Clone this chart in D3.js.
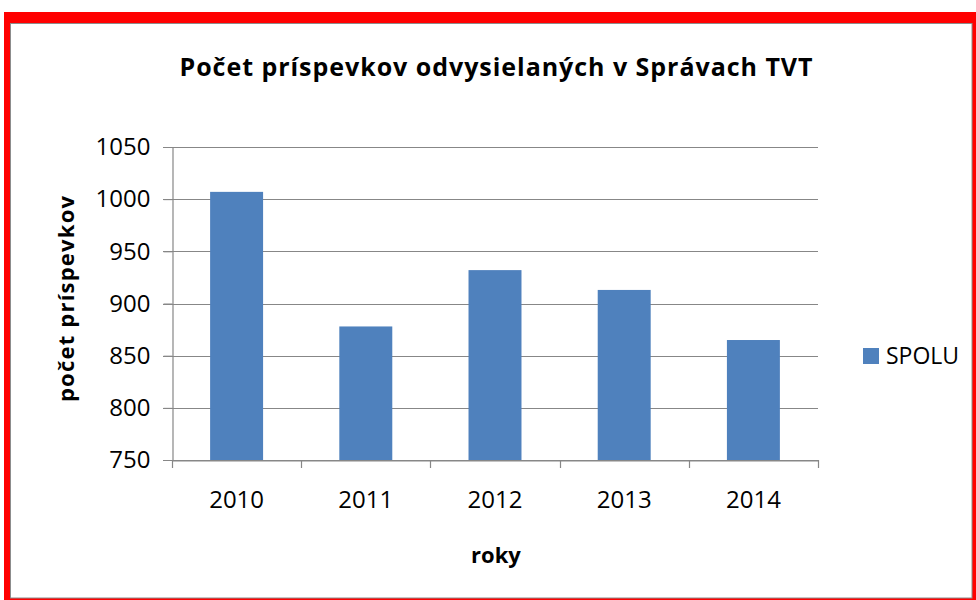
<!DOCTYPE html>
<html>
<head>
<meta charset="utf-8">
<script src="https://cdn.jsdelivr.net/npm/d3@7"></script>
<style>
  body { margin: 0; background: #fff; }
  svg { display: block; font-family: "Open Sans", "Liberation Sans", Arial, sans-serif; }
</style>
</head>
<body>
<div id="chart"></div>
<script>
const years = ['2010', '2011', '2012', '2013', '2014'];
const spolu = [1007, 878, 932, 913, 865];
const yTicks = [750, 800, 850, 900, 950, 1000, 1050];

const width = 976, height = 600;
const margin = { top: 147, right: 158, bottom: 140, left: 172 };
const font = '"Open Sans", "Liberation Sans", Arial, sans-serif';

const svg = d3.select('#chart').append('svg')
  .attr('width', width)
  .attr('height', height);

// red frame + grey inner border
svg.append('rect').attr('x', 4).attr('y', 12).attr('width', 972).attr('height', 588).attr('fill', '#ff0000');
svg.append('rect').attr('x', 10.5).attr('y', 23.5).attr('width', 961.5).attr('height', 574.5)
  .attr('fill', '#fff').attr('stroke', '#8c8c8c').attr('stroke-width', 1);

const x = d3.scaleBand()
  .domain(years)
  .range([margin.left, width - margin.right])
  .paddingInner(0.59)
  .paddingOuter(0.295);

const y = d3.scaleLinear()
  .domain([750, 1050])
  .range([height - margin.bottom, margin.top]);

// gridlines
svg.append('g')
  .selectAll('line')
  .data(yTicks)
  .join('line')
  .attr('x1', margin.left - 9)
  .attr('x2', width - margin.right)
  .attr('y1', d => Math.round(y(d)) + 0.5)
  .attr('y2', d => Math.round(y(d)) + 0.5)
  .attr('stroke', '#878787')
  .attr('stroke-width', 1.2);

// bars
svg.append('g')
  .selectAll('rect')
  .data(spolu)
  .join('rect')
  .attr('x', (d, i) => x(years[i]))
  .attr('y', d => y(d))
  .attr('width', x.bandwidth())
  .attr('height', d => y(750) - y(d))
  .attr('fill', '#4f81bd');

// y axis
const yAxis = svg.append('g')
  .attr('transform', `translate(${margin.left + 0.5},0)`)
  .call(d3.axisLeft(y).tickValues(yTicks).tickFormat(d3.format('d')).tickSize(9).tickPadding(13));
yAxis.select('.domain').attr('stroke', '#878787').attr('stroke-width', 1.2);
yAxis.selectAll('.tick line').attr('stroke', '#878787');
yAxis.selectAll('text').attr('font-size', 24).attr('fill', '#000').attr('font-family', font);

// x axis
const xAxis = svg.append('g')
  .attr('transform', `translate(0,${height - margin.bottom + 0.5})`)
  .call(d3.axisBottom(x).tickSize(0).tickPadding(30));
xAxis.select('.domain').attr('stroke', '#878787').attr('stroke-width', 1.2);
xAxis.selectAll('text').attr('font-size', 24).attr('fill', '#000').attr('font-family', font);

// category separator ticks
const step = x.step();
const bounds = d3.range(years.length + 1).map(i => margin.left + i * step);
svg.append('g')
  .selectAll('line')
  .data(bounds)
  .join('line')
  .attr('x1', d => Math.round(d) + 0.5)
  .attr('x2', d => Math.round(d) + 0.5)
  .attr('y1', height - margin.bottom)
  .attr('y2', height - margin.bottom + 8)
  .attr('stroke', '#878787')
  .attr('stroke-width', 1.2);

// title
svg.append('text')
  .attr('x', 496)
  .attr('y', 76)
  .attr('text-anchor', 'middle')
  .attr('font-size', 25)
  .attr('font-weight', 'bold')
  .attr('textLength', 633)
  .attr('lengthAdjust', 'spacing')
  .text('Počet príspevkov odvysielaných v Správach TVT');

// axis titles
svg.append('text')
  .attr('x', 496)
  .attr('y', 563)
  .attr('text-anchor', 'middle')
  .attr('font-size', 22)
  .attr('font-weight', 'bold')
  .text('roky');

svg.append('text')
  .attr('transform', 'translate(74,299) rotate(-90)')
  .attr('text-anchor', 'middle')
  .attr('font-size', 22)
  .attr('font-weight', 'bold')
  .attr('textLength', 206)
  .attr('lengthAdjust', 'spacing')
  .text('počet príspevkov');

// legend
const legend = svg.append('g').attr('transform', 'translate(863,348)');
legend.append('rect').attr('width', 16).attr('height', 16).attr('fill', '#4f81bd');
legend.append('text').attr('x', 23).attr('y', 16).attr('font-size', 23).attr('font-family', font).text('SPOLU');
</script>
</body>
</html>
